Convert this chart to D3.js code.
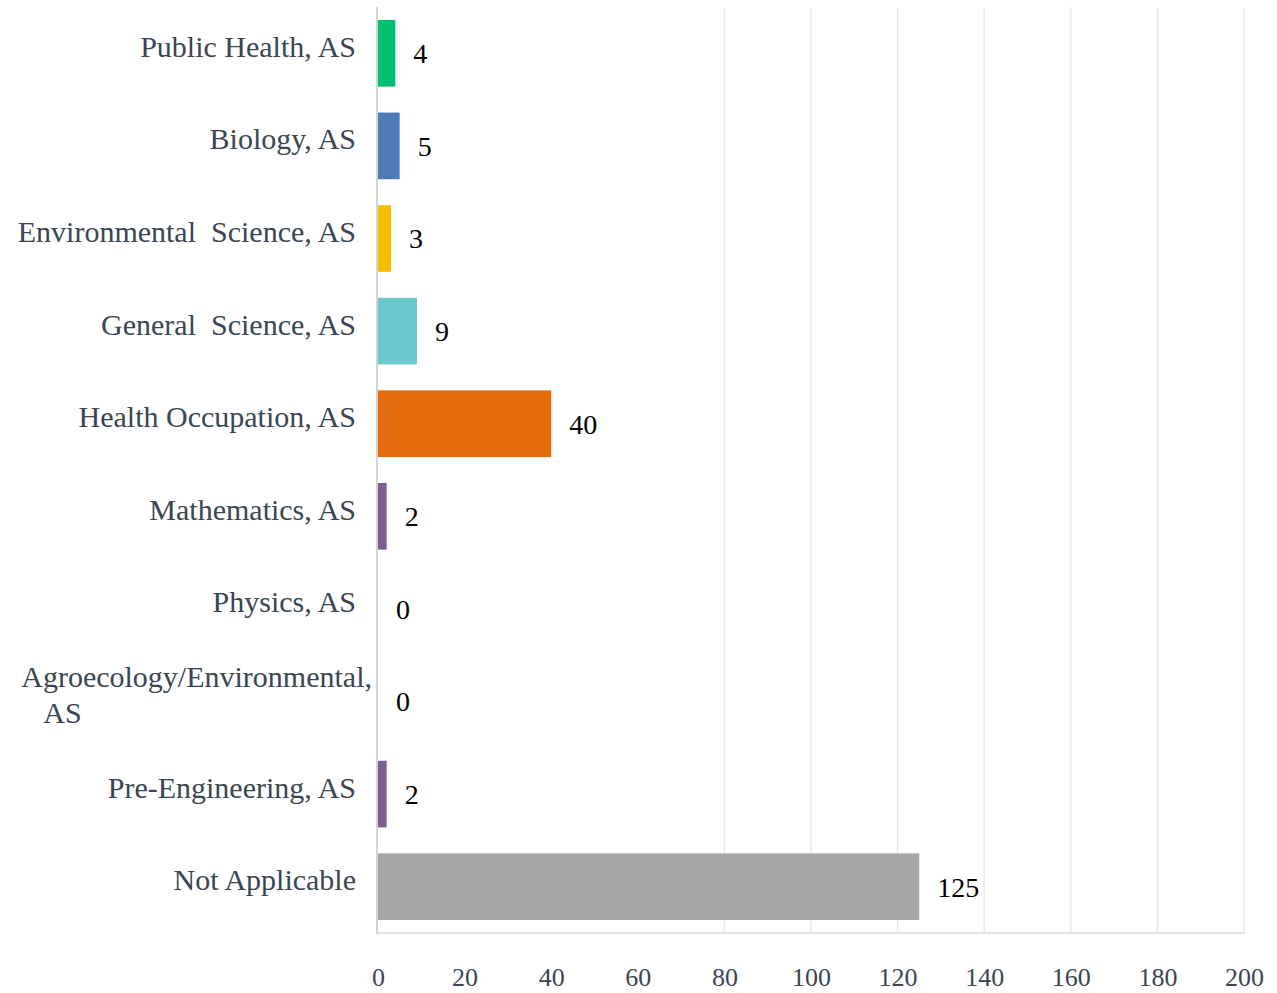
<!DOCTYPE html>
<html>
<head>
<meta charset="utf-8">
<script src="https://cdn.jsdelivr.net/npm/d3@7"></script>
<style>
  html, body { margin: 0; padding: 0; background: #ffffff; }
  svg { display: block; }
</style>
</head>
<body>
<svg id="chart" width="1277" height="993"></svg>
<script>
// ---- data ----
const categories = [
  "Public Health, AS",
  "Biology, AS",
  "Environmental  Science, AS",
  "General  Science, AS",
  "Health Occupation, AS",
  "Mathematics, AS",
  "Physics, AS",
  "Agroecology/Environmental,\nAS",
  "Pre-Engineering, AS",
  "Not Applicable"
];
const values = [4, 5, 3, 9, 40, 2, 0, 0, 2, 125];
const barColors = ["#00bf6f", "#4e7ab5", "#f6be00", "#6cc8cc", "#e46c0a", "#7d5f94", "#7d5f94", "#7d5f94", "#7d5f94", "#a6a6a6"];
const xTicks = [0, 20, 40, 60, 80, 100, 120, 140, 160, 180, 200];
const gridTicks = [80, 100, 120, 140, 160, 180, 200];

// ---- layout ----
(function () {
const svg = d3.select("#chart");
const plotLeft = 378, plotRight = 1244, plotTop = 7, plotBottom = 933;

const x = d3.scaleLinear().domain([0, 200]).range([plotLeft, plotRight]);
const y = d3.scaleBand().domain(categories).range([plotTop, plotBottom]).paddingInner(0.28).paddingOuter(0.14);

// gridlines
svg.append("g").selectAll("line").data(gridTicks).join("line")
  .attr("x1", d => x(d)).attr("x2", d => x(d))
  .attr("y1", plotTop).attr("y2", plotBottom)
  .attr("stroke", "#e8e8e8").attr("stroke-width", 1.5);

// bars
svg.append("g").selectAll("rect").data(values).join("rect")
  .attr("x", x(0))
  .attr("y", (d, i) => y(categories[i]))
  .attr("width", d => x(d) - x(0))
  .attr("height", y.bandwidth())
  .attr("fill", (d, i) => barColors[i]);

// axis lines
svg.append("line").attr("x1", plotLeft - 1).attr("x2", plotLeft - 1).attr("y1", plotTop).attr("y2", plotBottom + 1)
  .attr("stroke", "#d4d4d4").attr("stroke-width", 2);
svg.append("line").attr("x1", plotLeft - 1).attr("x2", plotRight).attr("y1", plotBottom).attr("y2", plotBottom)
  .attr("stroke", "#d9d9d9").attr("stroke-width", 1.5);

// x tick labels via axis
const xAxis = d3.axisBottom(x).tickValues(xTicks).tickSize(0).tickPadding(0);
const gx = svg.append("g").attr("transform", "translate(0, 986)").call(xAxis);
gx.select(".domain").remove();
gx.selectAll("text")
  .attr("y", 0)
  .attr("dy", 0)
  .attr("font-family", "'Liberation Serif', 'Times New Roman', serif")
  .attr("font-size", 26)
  .attr("fill", "#3a4653");

// category labels
const labelX = 356;
const lg = svg.append("g")
  .attr("font-family", "'Liberation Serif', 'Times New Roman', serif")
  .attr("font-size", 30)
  .attr("fill", "#3a4653");
categories.forEach((c, i) => {
  const lines = c.split("\n");
  const cy = y(c) + y.bandwidth() / 2 - 7;
  if (lines.length === 1) {
    lg.append("text").attr("x", labelX).attr("y", cy).attr("dy", "0.35em")
      .attr("text-anchor", "end").style("white-space", "pre").text(c);
  } else {
    const t1 = lg.append("text").attr("x", labelX + 16).attr("y", cy - 18).attr("dy", "0.35em")
      .attr("text-anchor", "end").text(lines[0]);
    const w = t1.node().getComputedTextLength();
    lg.append("text").attr("x", labelX + 16 - w + 22).attr("y", cy + 18).attr("dy", "0.35em")
      .attr("text-anchor", "start").text(lines[1]);
  }
});

// value labels
svg.append("g")
  .attr("font-family", "'Liberation Serif', 'Times New Roman', serif")
  .attr("font-size", 28)
  .attr("fill", "#000000")
  .selectAll("text").data(values).join("text")
  .attr("x", d => x(d) + 18)
  .attr("y", (d, i) => y(categories[i]) + y.bandwidth() / 2)
  .attr("dy", "0.35em")
  .text(d => d);
})();
</script>
</body>
</html>
